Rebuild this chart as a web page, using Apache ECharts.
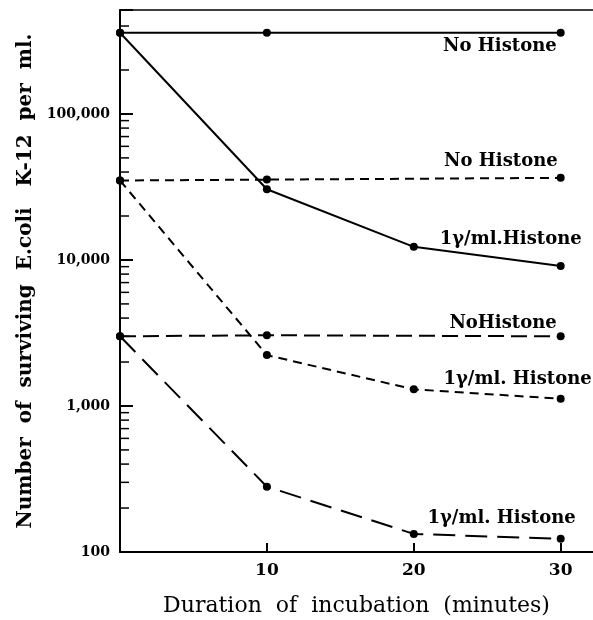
<!DOCTYPE html>
<html>
<head>
<meta charset="utf-8">
<script src="https://cdn.jsdelivr.net/npm/echarts@6/dist/echarts.min.js"></script>
<style>
  html, body { margin: 0; padding: 0; background: #fff; }
  #chart { width: 593px; height: 620px; }
</style>
</head>
<body>
<div id="chart"></div>
<script>
const minutes = [0, 10, 20, 30];

// solid lines
const solidNoHistone = [[0, 360000], [10, 360000], [30, 360000]];
const solidHistone = [360000, 30500, 12300, 9100];
// short dashes
const dashNoHistone = [[0, 35000], [10, 35500], [30, 36500]];
const dashHistone = [35000, 2230, 1300, 1120];
// long dashes
const longNoHistone = [[0, 3000], [10, 3050], [30, 3000]];
const longHistone = [3000, 280, 133, 123];

const xTicks = [10, 20, 30];
const yMajorTicks = [100, 1000, 10000, 100000];
const yMinorTicks = [
  200, 300, 400, 500, 600, 700, 800, 900,
  2000, 3000, 4000, 5000, 6000, 7000, 8000, 9000,
  20000, 40000, 50000, 60000, 70000, 80000, 90000,
  200000, 400000
];

const labelFont = 'DejaVu Serif';

const chart = echarts.init(document.getElementById('chart'));

function pairs(vals) {
  return vals.map((v, i) => [minutes[i], v]);
}

function withEndLabel(data, text, offset) {
  const last = data[data.length - 1];
  data[data.length - 1] = {
    value: last,
    label: {
      show: true,
      formatter: text,
      position: 'inside',
      align: 'right',
      verticalAlign: 'middle',
      offset: offset,
      color: '#000',
      fontFamily: labelFont,
      fontWeight: 'bold',
      fontSize: 18
    }
  };
  return data;
}

function lineSeries(data, dash) {
  return {
    type: 'line',
    data: data,
    symbol: 'circle',
    symbolSize: 8,
    itemStyle: { color: '#000' },
    lineStyle: { color: '#000', width: 2, type: dash },
    animation: false,
    z: 3
  };
}

chart.setOption({
  backgroundColor: '#fff',
  animation: false,
  grid: { left: 120, right: 0, top: 10, bottom: 68, outerBoundsMode: 'none', containLabel: false },
  xAxis: [{
    type: 'value',
    min: 0,
    max: 32.2,
    interval: 10,
    position: 'bottom',
    name: 'Duration  of  incubation  (minutes)',
    nameLocation: 'middle',
    nameGap: 43,
    nameTextStyle: { color: '#000', fontFamily: labelFont, fontSize: 22 },
    axisLine: { lineStyle: { color: '#000', width: 2 } },
    axisTick: { inside: true, length: 9, lineStyle: { color: '#000', width: 2 } },
    axisLabel: {
      color: '#000', fontFamily: labelFont, fontWeight: 'bold', fontSize: 17, margin: 10,
      showMaxLabel: false,
      formatter: v => (xTicks.includes(v) ? String(v) : '')
    },
    splitLine: { show: false }
  }, {
    type: 'value',
    min: 0,
    max: 32.2,
    position: 'top',
    axisLine: { show: true, lineStyle: { color: '#000', width: 1.5 } },
    axisTick: { show: false },
    axisLabel: { show: false },
    splitLine: { show: false }
  }],
  yAxis: {
    type: 'log',
    logBase: 10,
    min: 100,
    max: 515000,
    name: 'Number  of  surviving  E.coli   K-12  per  ml.',
    nameLocation: 'middle',
    nameGap: 82,
    nameTextStyle: { color: '#000', fontFamily: labelFont, fontWeight: 'bold', fontSize: 20 },
    axisLine: { lineStyle: { color: '#000', width: 2 } },
    axisTick: { inside: true, length: 13, lineStyle: { color: '#000', width: 2 } },
    axisLabel: {
      color: '#000', fontFamily: labelFont, fontWeight: 'bold', fontSize: 14, margin: 10,
      formatter: v => (yMajorTicks.includes(Math.round(v)) ? Math.round(v).toLocaleString('en-US') : '')
    },
    splitLine: { show: false }
  },
  series: [
    lineSeries(withEndLabel(solidNoHistone.slice(), 'No Histone', [-4, 14]), 'solid'),
    lineSeries(withEndLabel(pairs(solidHistone), '1γ/ml.Histone', [21, -27]), 'solid'),
    lineSeries(withEndLabel(dashNoHistone.slice(), 'No Histone', [-3, -17]), [9, 6]),
    lineSeries(withEndLabel(pairs(dashHistone), '1γ/ml. Histone', [31, -19]), [9, 6]),
    lineSeries(withEndLabel(longNoHistone.slice(), 'NoHistone', [-4, -13]), [16, 7]),
    lineSeries(withEndLabel(pairs(longHistone), '1γ/ml. Histone', [15, -21]), [22, 10]),
    {
      type: 'custom',
      data: yMinorTicks.map(v => [0, v]),
      silent: true,
      animation: false,
      renderItem: (params, api) => {
        const p = api.coord([0, api.value(1)]);
        return {
          type: 'line',
          shape: { x1: p[0], y1: p[1], x2: p[0] + 9, y2: p[1] },
          style: { stroke: '#000', lineWidth: 1.5 }
        };
      },
      z: 2
    }
  ]
});
</script>
</body>
</html>
